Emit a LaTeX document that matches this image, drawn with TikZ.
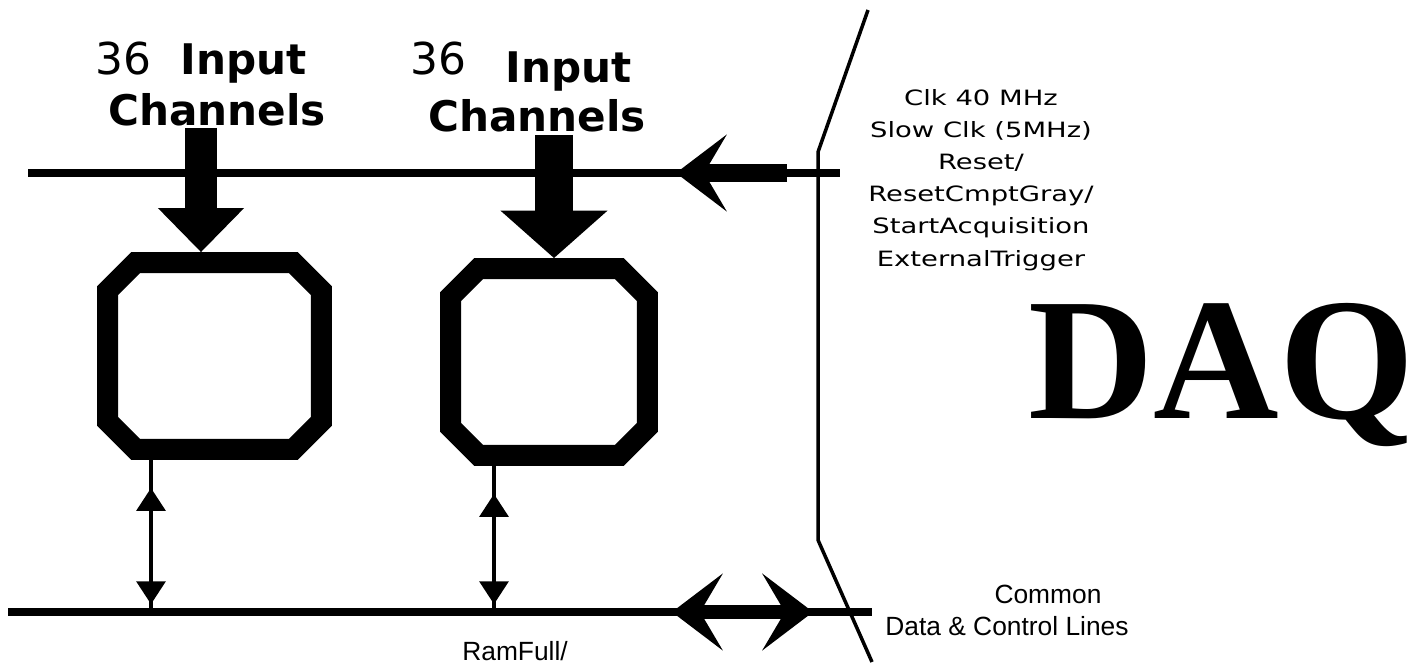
\documentclass[tikz,border=0pt]{standalone}
\usepackage{fontspec}
\setmainfont{DejaVu Sans}
\newfontfamily\pixfont[FakeStretch=1.3]{DejaVu Sans}
\newfontfamily\rowfont{Liberation Sans}
\newfontfamily\daqfont{Liberation Serif}
\usetikzlibrary{arrows.meta}

\begin{document}
\begin{tikzpicture}[
        x=0.02cm, y=-0.02cm,
        chip/.style={rectangle, minimum width=#1, minimum height=4.16cm, inner sep=0pt, outer sep=0pt},
        frame/.style={line width=12pt, line join=miter},
        bus/.style={line width=5pt},
        link/.style={line width=2.8pt},
        lbl/.style={inner sep=0pt, anchor=base west},
        big/.style={font=\fontsize{25}{30}\selectfont},
        bigb/.style={font=\bfseries\fontsize{24}{28}\selectfont},
        row/.style={font=\rowfont\fontsize{15}{18}\selectfont},
        vtip/.tip={Triangle[length=13pt, width=17pt, line width=0pt]},
        wide/.tip={Stealth[length=29pt, width=44pt, inset=13pt, line width=0pt]},
        >=Latex
    ]
    \useasboundingbox (0,0) rectangle (1415,662);

    % the two chips (outer size), framed as octagons
    \node[chip=4.7cm] (b1) at (214.5,356) {};
    \node[chip=4.36cm] (b2) at (549,362) {};
    \foreach \b in {b1,b2}
        \draw[frame] ([xshift=22pt, yshift=-6pt]\b.north west) -- ([xshift=-22pt, yshift=-6pt]\b.north east)
            -- ([xshift=-6pt, yshift=-22pt]\b.north east) -- ([xshift=-6pt, yshift=22pt]\b.south east)
            -- ([xshift=-22pt, yshift=6pt]\b.south east) -- ([xshift=22pt, yshift=6pt]\b.south west)
            -- ([xshift=6pt, yshift=22pt]\b.south west) -- ([xshift=6pt, yshift=-22pt]\b.north west) -- cycle;

    % buses
    \coordinate (topL) at (28,173);
    \coordinate (topR) at (840,173);
    \coordinate (botL) at (8,612);
    \coordinate (botR) at (872,612);
    \draw[bus] (topL) -- (topR);
    \draw[bus] (botL) -- (botR);

    \coordinate (clkIn) at (787,173);
    \coordinate (clkTip) at (676,173);
    \draw[line width=10.5pt, -wide] (clkIn) -- (clkTip);

    \coordinate (dL) at (672,612);
    \coordinate (dR) at (813,612);
    \draw[line width=8.5pt, wide-wide] (dL) -- (dR);

    % input channels
    \coordinate (in1) at (201,128);
    \coordinate (in2) at (554,135);
    \draw[line width=18.5pt, -{Triangle[length=25pt, width=49pt, line width=0pt]}] (in1) -- (in1 |- b1.north);
    \draw[line width=21.5pt, -{Triangle[length=27pt, width=61pt, line width=0pt]}] (in2) -- (in2 |- b2.north);

    % links to the data bus
    \coordinate (v1) at (151,0);
    \coordinate (v2) at (494,0);
    \draw[link] (v1 |- b1.south) -- (v1 |- botL);
    \draw[link, vtip-vtip, shorten <=16pt, shorten >=4.5pt] (v1 |- b1.south) -- (v1 |- botL);
    \draw[link] (v2 |- b2.south) -- (v2 |- botL);
    \draw[link, vtip-vtip, shorten <=16pt, shorten >=4.5pt] (v2 |- b2.south) -- (v2 |- botL);

    % border to the DAQ
    \draw[line width=2pt] (868,10) -- (818,152) -- (818,540) -- (872,662);

    % labels
    \node[lbl, big] (n1) at (95,75) {36};
    \node[lbl, bigb] (i1) at (180,75) {Input};
    \node[lbl, bigb] (c1) at (108,126) {Channels};
    \node[lbl, big] (n2) at (410,75) {36};
    \node[lbl, bigb] (i2) at (505,83) {Input};
    \node[lbl, bigb] (c2) at (428,132) {Channels};

    \node[inner sep=0pt, anchor=north, align=center, font=\pixfont\fontsize{12}{18.3}\selectfont] (sig) at (981,89)
        {Clk 40 MHz\\Slow Clk (5MHz)\\Reset/\\ResetCmptGray/\\StartAcquisition\\ExternalTrigger};

    \node[lbl, font=\daqfont\bfseries\fontsize{99}{110}\selectfont] (daq) at (1028,418) {DAQ};

    \node[inner sep=0pt, anchor=base, row] (com) at (1048,603) {Common};
    \node[lbl, row] (dcl) at (885,635) {Data \& Control Lines};
    \node[lbl, row] (ram) at (462,660) {RamFull/};
\end{tikzpicture}
\end{document}
